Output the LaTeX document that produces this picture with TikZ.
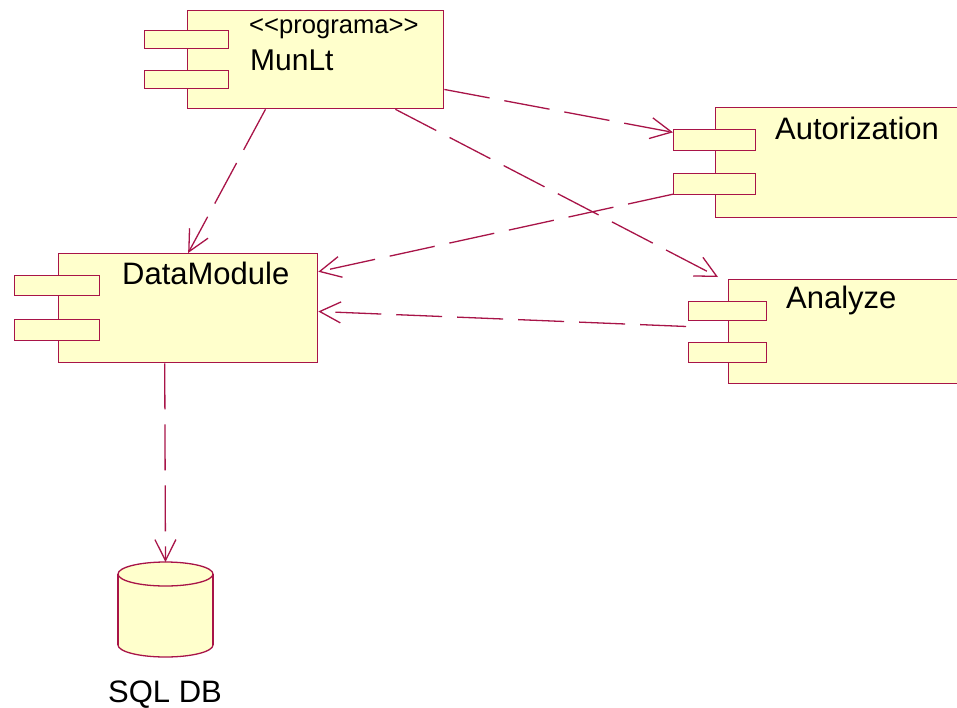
\documentclass[tikz,border=0pt]{standalone}
\usepackage{fontspec}
\setmainfont{Liberation Sans}
\usetikzlibrary{arrows.meta, calc}
\definecolor{rand}{RGB}{168,20,72}
\definecolor{fuell}{RGB}{255,255,204}
\tikzset{>={Straight Barb[length=21pt, width=21pt, line width=1.3pt]}}
\tikzset{
  komp/.style={draw=rand, fill=fuell, line width=1.3pt, rectangle, inner sep=0pt, anchor=north west},
  abh/.style={rand, line width=1.3pt, dash pattern=on 46pt off 15pt, ->},
  titel/.style={anchor=base west, inner sep=0pt, font=\fontsize{31}{37}\selectfont},
}

\begin{document}
\begin{tikzpicture}[x=1pt, y=-1pt]

	\clip (0,0) rectangle (957,707);

	% MunLt
	\node[komp, minimum width=256pt, minimum height=98pt] (munlt) at (187,10) {};
	\node[komp, minimum width=84pt, minimum height=18pt] (munlt-p1) at (144,30) {};
	\node[komp, minimum width=84pt, minimum height=18pt] (munlt-p2) at (144,70) {};
	\node[titel, font=\fontsize{25.6}{30}\selectfont] (munlt-st) at (249,33) {<{}<programa>{}>};
	\node[titel, font=\fontsize{30}{36}\selectfont] (munlt-n) at (250,70) {MunLt};

	% Autorization
	\node[komp, minimum width=260pt, minimum height=110pt] (auth) at (715,107) {};
	\node[komp, minimum width=82pt, minimum height=21pt] (auth-p1) at (673,129) {};
	\node[komp, minimum width=82pt, minimum height=21pt] (auth-p2) at (673,173) {};
	\node[titel] (auth-n) at (775,139) {Autorization};

	% DataModule
	\node[komp, minimum width=259pt, minimum height=109pt] (dm) at (58,253) {};
	\node[komp, minimum width=85pt, minimum height=20pt] (dm-p1) at (14,275) {};
	\node[komp, minimum width=85pt, minimum height=21pt] (dm-p2) at (14,319) {};
	\node[titel] (dm-n) at (122,284) {DataModule};

	% Analyze
	\node[komp, minimum width=250pt, minimum height=104pt] (ana) at (728,279) {};
	\node[komp, minimum width=78pt, minimum height=19pt] (ana-p1) at (688,301) {};
	\node[komp, minimum width=78pt, minimum height=20pt] (ana-p2) at (688,342) {};
	\node[titel] (ana-n) at (786,308) {Analyze};

	% SQL DB (Zylinder)
	\draw[rand, fill=fuell, line width=1.3pt] (165.5,645) ellipse [x radius=47.5, y radius=12];
	\fill[fuell] (118,574) rectangle (213,645);
	\draw[rand, line width=1.3pt] (118,574) -- (118,645) (213,574) -- (213,645);
	\draw[rand, fill=fuell, line width=1.3pt] (165.5,574) ellipse [x radius=47.5, y radius=12];
	\coordinate (db) at (165.5,562);
	\node[anchor=base, inner sep=0pt, font=\fontsize{31}{37}\selectfont] (db-n) at (165,702) {SQL DB};

	% Abhaengigkeiten
	\draw[abh] ($(munlt.south west)!0.305!(munlt.south east)$) -- (dm.north);
	\draw[abh] ($(munlt.north east)!0.8!(munlt.south east)$) -- ($(auth-p1.north west)!0.15!(auth-p1.south west)$);
	\draw[abh] ($(munlt.south west)!0.81!(munlt.south east)$) -- ($(ana.north west)+(-10,-2)$);
	\draw[abh] ($(auth-p2.north west)!0.95!(auth-p2.south west)$) -- ($(dm.north east)!0.17!(dm.south east)$);
	\draw[abh] ($(ana-p1.south west)!0.25!(ana-p2.north west)+(-2,0)$) -- ($(dm.north east)!0.53!(dm.south east)$);
	\draw[abh] ($(dm.south west)!0.41!(dm.south east)$) -- (db);

\end{tikzpicture}
\end{document}
